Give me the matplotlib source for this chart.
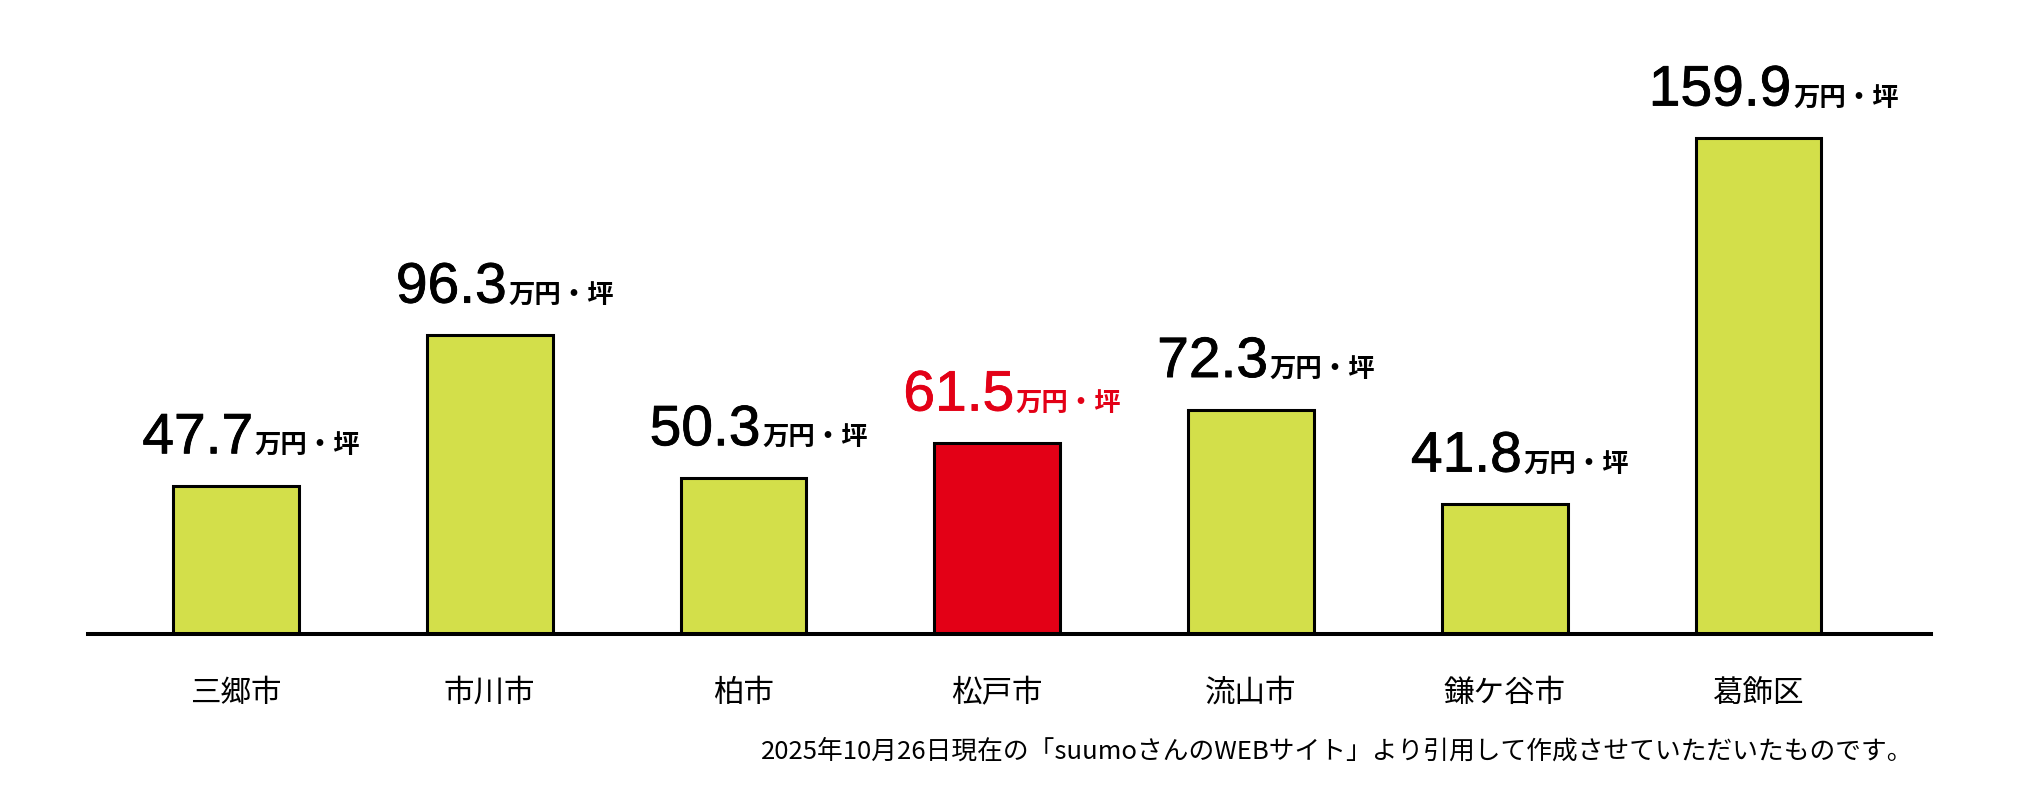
import matplotlib
matplotlib.use('Agg')
import matplotlib.pyplot as plt
import matplotlib.patheffects as pe
from matplotlib.offsetbox import TextArea, HPacker, AnnotationBbox

# dati (万円/坪)
cities = ['三郷市', '市川市', '柏市', '松戸市', '流山市', '鎌ケ谷市', '葛飾区']
prices = [47.7, 96.3, 50.3, 61.5, 72.3, 41.8, 159.9]
unit = '万円・坪'
highlight = '松戸市'
note = '2025年10月26日現在の「suumoさんのWEBサイト」より引用して作成させていただいたものです。'

green = '#D3DF4A'
red = '#E30016'
jp = ['Noto Sans CJK JP', 'DejaVu Sans']

fig = plt.figure(figsize=(20.23, 8.04), dpi=100)
ax = fig.add_axes([88 / 2023, 169 / 804, 1843 / 2023, 635 / 804])

colors = [red if c == highlight else green for c in cities]
x = list(range(len(cities)))
ax.bar(x, prices, width=0.496, color=colors, edgecolor='black', linewidth=2.2, zorder=2)

ax.set_xlim(-0.583, 6.68)
ax.set_ylim(0, 635 / 3.1)

for s in ['top', 'left', 'right']:
    ax.spines[s].set_visible(False)
ax.spines['bottom'].set_linewidth(2.9)
ax.spines['bottom'].set_zorder(3)
ax.set_yticks([])
ax.set_xticks(x)
ax.set_xticklabels(cities, family=jp, fontsize=22)
ax.tick_params(axis='x', length=0, pad=31)

# etichette dei valori: numero grande + unità piccola
for i, (c, v) in enumerate(zip(cities, prices)):
    col = red if c == highlight else 'black'
    num = TextArea(f'{v:.1f}', textprops=dict(
        fontsize=41, family='Liberation Sans', color=col,
        path_effects=[pe.withStroke(linewidth=0.6, foreground=col)]))
    unt = TextArea(unit, textprops=dict(fontsize=19, family=jp, weight='bold', color=col))
    pack = HPacker(children=[num, unt], align='baseline', pad=0, sep=1)
    ab = AnnotationBbox(pack, (i, v), xybox=(11, 15), xycoords='data',
                        boxcoords='offset points', box_alignment=(0.5, 0),
                        frameon=False, pad=0)
    ax.add_artist(ab)

fig.text(1913 / 2023, 1 - 752 / 804, note, ha='right', va='center',
         fontsize=18.5, family=jp)

fig.savefig('out.png', dpi=100, facecolor='white')
